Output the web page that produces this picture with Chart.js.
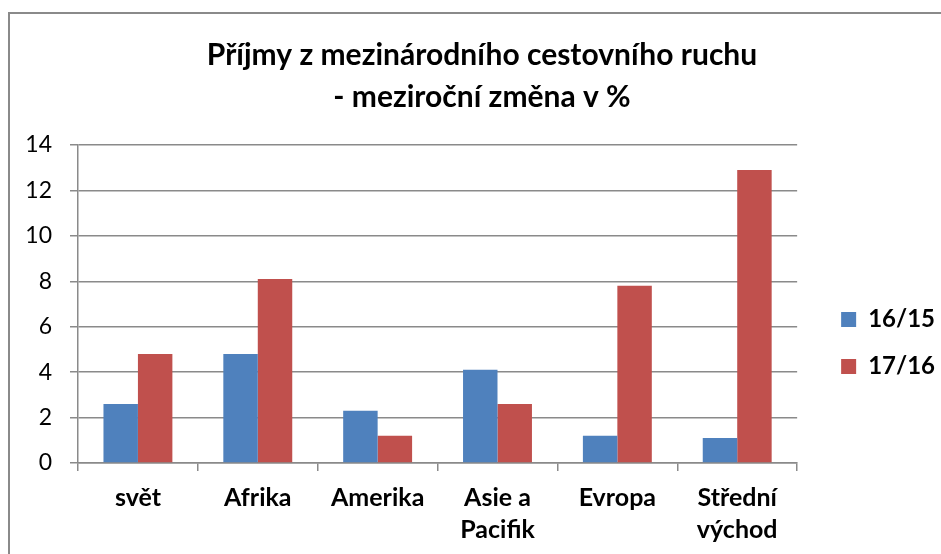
<!DOCTYPE html>
<html>
<head>
<meta charset="utf-8">
<script src="https://cdn.jsdelivr.net/npm/chart.js@4"></script>
<style>
  body { margin: 0; background: #fff; }
  #frame { position: absolute; left: 8px; top: 12px; width: 960px; height: 600px;
           border-left: 2px solid #8a8a8a; border-top: 2px solid #8a8a8a; }
  #wrap { position: absolute; left: 0; top: 0; width: 941px; height: 554px; }
</style>
</head>
<body>
<div id="frame"></div>
<div id="wrap"><canvas id="myChart" width="941" height="554"></canvas></div>
<script>
// data
const categories = ['svět', 'Afrika', 'Amerika', ['Asie a', 'Pacifik'], 'Evropa', ['Střední', 'východ']]
const series1Label = '16/15'
const series1 = [2.6, 4.8, 2.3, 4.1, 1.2, 1.1]
const series2Label = '17/16'
const series2 = [4.8, 8.1, 1.2, 2.6, 7.8, 12.9]
const yTicks = [0, 2, 4, 6, 8, 10, 12, 14]

const gridGray = '#8a8a8a'
const fontName = 'Lato'

// move legend away from the plot area and nudge the title, like excel does
const boxShift = {
    id: 'boxShift',
    afterLayout(chart) {
        const lg = chart.legend
        lg.left += 21
        lg.right += 21
        lg.top += 66
        lg.bottom += 66
        const tt = chart.titleBlock
        tt.left += 10
        tt.right += 10
    }
}

const ctx = document.getElementById('myChart').getContext('2d')
const myChart = new Chart(ctx, {
    type: 'bar',
    data: {
        labels: categories,
        datasets: [{
            label: series1Label,
            data: series1,
            backgroundColor: '#4f81bd'
        }, {
            label: series2Label,
            data: series2,
            backgroundColor: '#c0504d'
        }]
    },
    options: {
        responsive: false,
        animation: false,
        categoryPercentage: 0.575,
        barPercentage: 1,
        layout: { padding: { left: 20, right: 17, top: 0, bottom: 0 } },
        plugins: {
            title: {
                display: true,
                text: ['Příjmy z mezinárodního cestovního ruchu', '- meziroční změna v %'],
                color: '#000',
                font: { family: fontName, size: 30, weight: 'bold', lineHeight: 1.4 },
                padding: { top: 34, bottom: 27 }
            },
            legend: {
                position: 'right',
                labels: {
                    color: '#000',
                    font: { family: fontName, size: 24, weight: 'bold' },
                    boxWidth: 15,
                    boxHeight: 15,
                    padding: 23
                }
            },
            tooltip: { enabled: false }
        },
        scales: {
            x: {
                grid: { drawOnChartArea: false, tickLength: 8, color: gridGray, lineWidth: 1.5 },
                border: { color: gridGray, width: 1.5 },
                ticks: {
                    color: '#000',
                    padding: 11,
                    maxRotation: 0,
                    autoSkip: false,
                    font: { family: fontName, size: 25, weight: 'bold', lineHeight: 1.28 }
                },
                afterFit(scale) { scale.height = 91 }
            },
            y: {
                min: 0,
                max: 14,
                afterBuildTicks(scale) { scale.ticks = yTicks.map(v => ({ value: v })) },
                grid: { tickLength: 8, color: gridGray, lineWidth: 1.5 },
                border: { color: gridGray, width: 1.5 },
                ticks: {
                    color: '#000',
                    padding: 18,
                    font: { family: fontName, size: 23 }
                },
                afterFit(scale) { scale.width = 58 }
            }
        }
    },
    plugins: [boxShift]
})
</script>
</body>
</html>
